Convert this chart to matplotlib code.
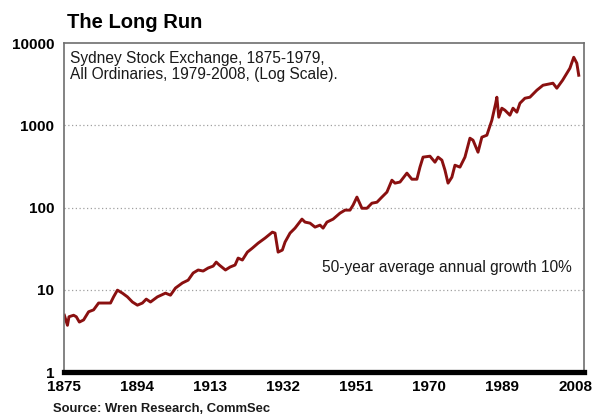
import numpy as np
import matplotlib
matplotlib.use("Agg")
import matplotlib.pyplot as plt

plt.rcParams['font.family'] = ['Liberation Sans', 'DejaVu Sans']

# index level (log scale)
years = [1875.1, 1875.9, 1876.3, 1877.5, 1878.2, 1879.0, 1880.1, 1881.4, 1882.7, 1884.0,
         1885.3, 1887.1, 1887.9, 1888.9, 1890.2, 1891.5, 1892.8, 1894.1, 1895.4, 1896.4,
         1897.5, 1899.3, 1901.4, 1902.7, 1904.0, 1905.8, 1907.3, 1908.6, 1909.9, 1911.2,
         1912.5, 1913.8, 1914.6, 1915.4, 1917.0, 1918.2, 1919.5, 1920.3, 1921.4, 1922.7,
         1924.0, 1925.5, 1927.3, 1929.2, 1929.9, 1930.7, 1931.8, 1932.5, 1933.8, 1935.1,
         1936.9, 1937.7, 1939.0, 1940.3, 1941.6, 1942.4, 1943.4, 1945.0, 1946.8, 1948.1,
         1949.4, 1950.2, 1951.2, 1952.5, 1953.8, 1955.1, 1956.4, 1957.7, 1959.0, 1960.3,
         1961.1, 1962.4, 1964.2, 1965.5, 1966.8, 1967.6, 1968.4, 1970.2, 1971.5, 1972.3,
         1973.3, 1974.1, 1974.9, 1975.9, 1976.7, 1978.0, 1979.3, 1980.6, 1981.4, 1982.7,
         1983.7, 1985.0, 1986.3, 1987.3, 1987.6, 1988.1, 1988.9, 1989.7, 1991.0, 1991.8,
         1992.8, 1993.6, 1994.9, 1996.2, 1998.0, 1999.6, 2002.2, 2003.2, 2004.7, 2006.6,
         2007.6, 2008.4, 2008.9]
index = [4.9, 3.7, 4.7, 4.9, 4.7, 4.05, 4.3, 5.4, 5.7, 6.9,
         6.9, 6.9, 8.2, 9.9, 9.1, 8.2, 7.1, 6.5, 6.9, 7.7,
         7.1, 8.2, 9.1, 8.6, 10.5, 12.1, 13.1, 16.0, 17.4, 16.9,
         18.4, 19.4, 21.7, 20.0, 17.4, 18.9, 20.0, 24.3, 23.0, 28.7,
         32.1, 36.9, 42.5, 50.2, 48.9, 28.7, 30.4, 38.0, 48.9, 56.2,
         72.3, 66.5, 64.6, 57.8, 61.1, 56.2, 66.5, 72.3, 85.5, 93.0,
         93.0, 107, 134, 98, 98, 113, 116, 134, 154, 215,
         198, 204, 262, 221, 221, 310, 410, 421, 356, 410,
         377, 285, 198, 234, 327, 310, 410, 697, 659, 471,
         717, 758, 1153, 1855, 2195, 1254, 1614, 1525, 1327, 1614,
         1443, 1855, 2134, 2195, 2670, 3070, 3250, 2825, 3530, 4940,
         6720, 5690, 4060]

xticks = [1875, 1894, 1913, 1932, 1951, 1970, 1989, 2008]
yticks = [1, 10, 100, 1000, 10000]

fig = plt.figure(figsize=(6.02, 4.18), dpi=100)
ax = fig.add_axes([0.1063, 0.110, 0.864, 0.787])

ax.plot(years, index, color="#8a1010", lw=2.1, solid_joinstyle="round")

ax.set_yscale("log")
ax.set_ylim(1, 10000)
ax.set_xlim(1875, 2010.3)
ax.set_yticks(yticks)
ax.set_yticklabels([str(v) for v in yticks])
ax.minorticks_off()
ax.set_xticks(xticks)
ax.set_xticklabels([str(v) for v in xticks])
ax.tick_params(axis="both", length=0, labelsize=11)
ax.tick_params(axis="y", pad=7)
ax.tick_params(axis="x", pad=6)
for lab in ax.get_xticklabels() + ax.get_yticklabels():
    lab.set_fontweight("bold")

for v in [10, 100, 1000]:
    ax.axhline(v, color="#a0a0a0", lw=0.9, ls=(0, (1, 2)), zorder=0)

for s in ["left", "top", "right"]:
    ax.spines[s].set_color("#6e6e6e")
    ax.spines[s].set_linewidth(1.2)
ax.spines["bottom"].set_color("black")
ax.spines["bottom"].set_linewidth(3.8)

ax.text(0.0115, 0.977, "Sydney Stock Exchange, 1875-1979,\nAll Ordinaries, 1979-2008, (Log Scale).",
        transform=ax.transAxes, ha="left", va="top", fontsize=11.2, linespacing=1.12, color="#1a1a1a")
ax.text(0.496, 0.319, "50-year average annual growth 10%", transform=ax.transAxes,
        ha="left", va="center", fontsize=11.2, color="#1a1a1a")

fig.text(67 / 602, 1 - 22 / 418, "The Long Run", fontsize=14.5, fontweight="bold",
         ha="left", va="center")
fig.text(53 / 602, 1 - 409 / 418, "Source: Wren Research, CommSec", fontsize=9.4,
         fontweight="bold", ha="left", va="center", color="#1a1a1a")

fig.savefig("out.png", dpi=100)
